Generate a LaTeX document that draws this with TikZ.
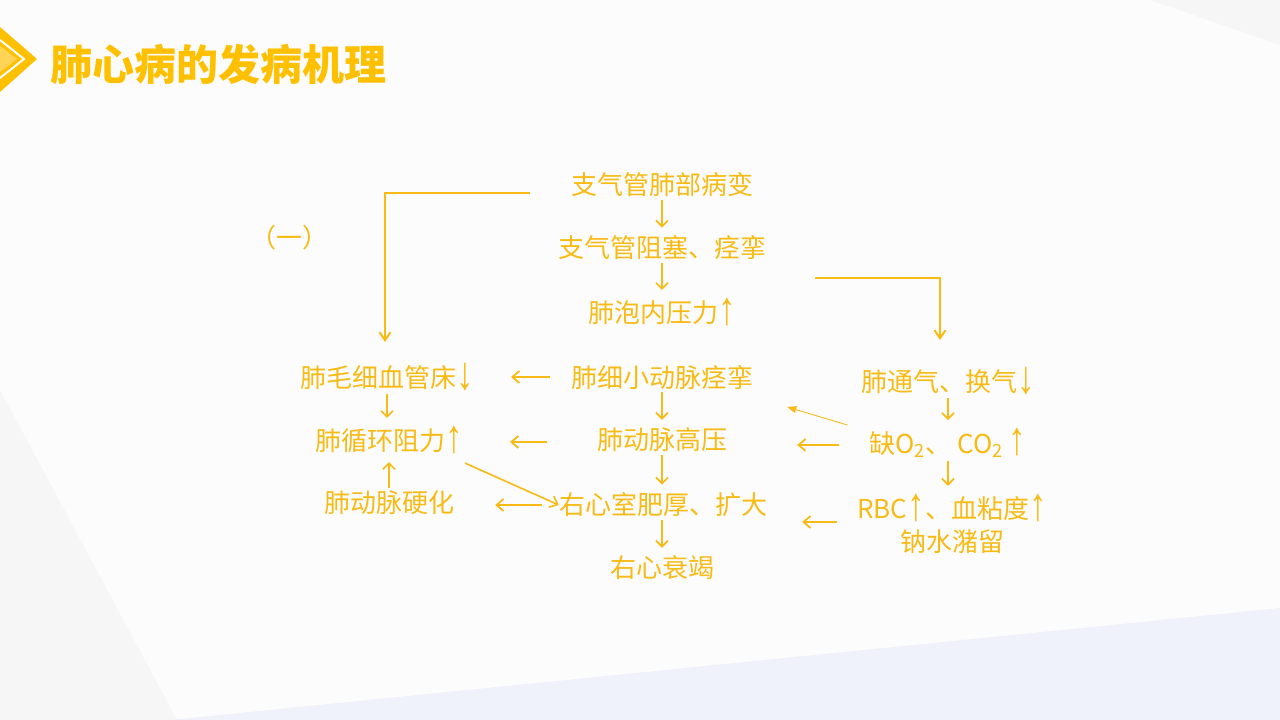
\documentclass[tikz,border=0pt]{standalone}
\usepackage{fontspec}
\usepackage{graphicx}
\newfontfamily\cjk{Noto Sans CJK SC}
\newfontfamily\arrfont{Liberation Sans}
\newcommand{\upa}{\raisebox{-1.5pt}{\scalebox{1.35}[1.8]{\arrfont ↑}}}
\newcommand{\dna}{\raisebox{-1.5pt}{\scalebox{1.35}[1.8]{\arrfont ↓}}}
\usetikzlibrary{arrows.meta}
\definecolor{gold}{HTML}{FFC000}
\definecolor{txt}{HTML}{F8BB15}
\definecolor{bgmain}{HTML}{FCFCFC}
\definecolor{bggrey}{HTML}{F6F6F6}
\definecolor{bgblue}{HTML}{EFF2FA}
\definecolor{lightgold}{HTML}{FFD457}
\begin{document}
\begin{tikzpicture}[x=1pt,y=-1pt,
  lbl/.style={text=txt, font=\cjk\fontsize{26}{33}\selectfont, inner sep=0pt, align=center},
  varr/.style={draw=txt, line width=1.7pt, -{Straight Barb[length=6pt,width=12pt]}, shorten <=3pt, shorten >=8pt},
  harr/.style={draw=txt, line width=1.8pt, -{Straight Barb[length=7pt,width=12pt]}},
  conn/.style={draw=txt, line width=2pt, -{Straight Barb[length=8pt,width=11pt]}},
  thinarr/.style={draw=txt, line width=0.9pt, -{Triangle[length=9pt,width=7pt]}}]
% background
\useasboundingbox (0,0) rectangle (1280,720);
\fill[bgmain] (0,0) rectangle (1280,720);
\fill[bggrey] (0,390) -- (177,720) -- (0,720) -- cycle;
\fill[bggrey] (1150,0) -- (1280,0) -- (1280,45) -- cycle;
\fill[bgblue] (170,720) -- (1280,608) -- (1280,720) -- cycle;
% title icon
\fill[gold] (0,27) -- (37,59) -- (0,92) -- cycle;
\draw[white, line width=2pt] (0,40) -- (24,59) -- (0,78);
\fill[lightgold] (0,46) -- (17,59) -- (0,72) -- cycle;
% title
\node[anchor=west, inner sep=0pt, text=gold, font=\cjk\bfseries\fontsize{42}{48}\selectfont] (title) at (50,64) {肺心病的发病机理};
% label
\node[lbl] (yi) at (289,238) {（一）};
% centre column
\node[lbl] (c1) at (662,185) {支气管肺部病变};
\node[lbl] (c2) at (662,248) {支气管阻塞、痉挛};
\node[lbl] (c3) at (662,312) {肺泡内压力\upa};
\node[lbl] (c4) at (662,377) {肺细小动脉痉挛};
\node[lbl] (c5) at (662,440) {肺动脉高压};
\node[lbl] (c6) at (663,505) {右心室肥厚、扩大};
\node[lbl] (c7) at (662,568) {右心衰竭};
% left column
\node[lbl] (l1) at (387,377) {肺毛细血管床\dna};
\node[lbl] (l2) at (389,440) {肺循环阻力\upa};
\node[lbl] (l3) at (389,503) {肺动脉硬化};
% right column
\node[lbl] (r1) at (948,381) {肺通气、换气\dna};
\node[lbl] (r2) at (948,443) {缺O\textsubscript{2}、 CO\textsubscript{2} \upa};
\node[lbl] (r3) at (952,524) {RBC\upa、血粘度\upa\\钠水潴留};
% vertical arrows
\draw[varr] (c1.south) -- (c2.north);
\draw[varr] (c2.south) -- (c3.north);
\draw[varr] (c4.south) -- (c5.north);
\draw[varr] (c5.south) -- (c5.south |- c6.north);
\draw[varr] (c7.north |- c6.south) -- (c7.north);
\draw[varr] (l1.south) -- (l1.south |- l2.north);
\draw[varr] (l3.north) -- (l3.north |- l2.south);
\draw[varr] (r1.south) -- (r1.south |- r2.north);
\draw[varr] (r2.south) -- (r2.south |- r3.north);
% horizontal arrows
\draw[harr, shorten <=21pt, shorten >=37pt] (c4.west) -- (c4.west -| l1.east);
\draw[harr, shorten <=50pt, shorten >=47pt] ([yshift=-2pt]c5.west) -- ([yshift=-2pt]c5.west -| l2.east);
\draw[harr, shorten <=17pt, shorten >=41pt] (c6.west) -- (c6.west -| l3.east);
\draw[harr, shorten <=30pt, shorten >=70pt] ([yshift=-2pt]r2.west) -- ([yshift=-2pt]r2.west -| c5.east);
\draw[harr, shorten <=20pt, shorten >=35pt] ([yshift=2pt]r3.west) -- ([yshift=2pt]r3.west -| c6.east);
% diagonal arrows
\draw[harr, line width=1.6pt] ([shift={(2,9)}]l2.south east) -- (c6.west);
\draw[thinarr] ([shift={(-22,-18)}]r2.west) -- ([shift={(34,30)}]c4.east);
% bracket connectors
\coordinate (s1) at (530,193);
\coordinate (e1) at (385,342);
\draw[conn] (s1) -| (e1);
\coordinate (s2) at (815,278);
\coordinate (e2) at (940,340);
\draw[conn] (s2) -| (e2);
\end{tikzpicture}
\end{document}
